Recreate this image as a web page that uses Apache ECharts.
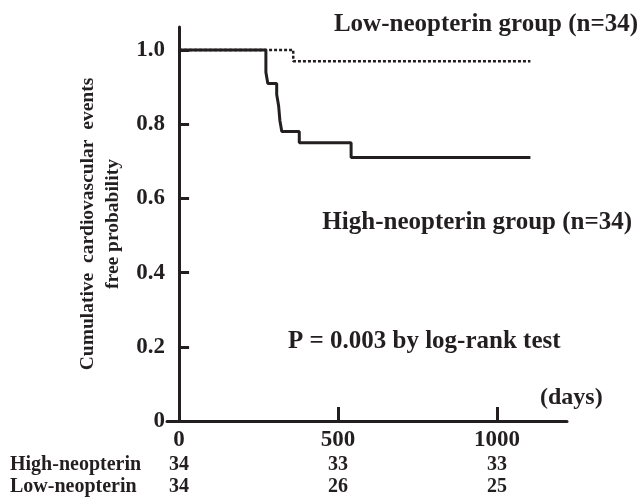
<!DOCTYPE html>
<html>
<head>
<meta charset="utf-8">
<script src="https://cdn.jsdelivr.net/npm/echarts@6/dist/echarts.min.js"></script>
<style>html,body{margin:0;padding:0;background:#fff}#c{width:641px;height:500px}</style>
</head>
<body>
<div id="c"></div>
<script>
// Kaplan-Meier step data (days, survival)
const highDays = [0, 273, 279, 307, 313, 317, 323, 378, 541, 1105];
const highSurv = [1.0, 0.94, 0.91, 0.88, 0.85, 0.81, 0.78, 0.75, 0.71, 0.71];
const lowDays = [0, 359, 1105];
const lowSurv = [1.0, 0.97, 0.97];
const xTicks = [0, 500, 1000];
const yTicks = [0, 0.2, 0.4, 0.6, 0.8, 1.0];
const atRiskHigh = [34, 33, 33];
const atRiskLow = [34, 26, 25];
const rowNames = ['High-neopterin', 'Low-neopterin'];

const ink = '#231f20';
const font = 'Liberation Serif';

const chart = echarts.init(document.getElementById('c'));
const baseX = {
  type: 'value', min: -38, max: 1220, splitLine: { show: false }
};
const riskAxis = (vals, offset) => Object.assign({}, baseX, {
  position: 'bottom', offset: offset,
  axisLine: { show: false }, axisTick: { show: false },
  axisLabel: {
    customValues: xTicks, margin: 0, color: ink, fontFamily: font, fontWeight: 'bold', fontSize: 20,
    formatter: v => String(vals[xTicks.indexOf(v)])
  }
});
chart.setOption({
  animation: false,
  grid: { left: 167, right: 74, top: 27, bottom: 79 },
  xAxis: [
    Object.assign({}, baseX, {
      position: 'bottom',
      axisLine: { onZero: false, lineStyle: { color: ink, width: 3 } },
      axisTick: { customValues: [500, 1000], inside: true, length: 14, lineStyle: { color: ink, width: 3 } },
      axisLabel: { customValues: xTicks, margin: 8, color: ink, fontFamily: font, fontWeight: 'bold', fontSize: 23,
        formatter: v => String(v) }
    }),
    riskAxis(atRiskHigh, 34),
    riskAxis(atRiskLow, 56)
  ],
  yAxis: {
    type: 'value', min: 0, max: 1.062,
    splitLine: { show: false },
    axisLine: { onZero: true, lineStyle: { color: ink, width: 3 } },
    axisTick: { customValues: [0.2, 0.4, 0.6, 0.8, 1.0], inside: true, length: 10, lineStyle: { color: ink, width: 3 } },
    axisLabel: {
      customValues: yTicks, margin: 2, color: ink, fontFamily: font, fontWeight: 'bold', fontSize: 23,
      formatter: v => v === 0 ? '0' : v.toFixed(1)
    },
    name: 'Cumulative  cardiovascular  events\nfree probability',
    nameLocation: 'middle', nameRotate: 90, nameGap: 36,
    nameTextStyle: { color: ink, fontFamily: font, fontWeight: 'bold', fontSize: 19.5, lineHeight: 25 }
  },
  series: [
    {
      type: 'line', step: 'end', symbol: 'none',
      data: lowDays.map((d, i) => [d, lowSurv[i]]),
      lineStyle: { color: ink, width: 2.5, type: [3, 2] }
    },
    {
      type: 'line', step: 'end', symbol: 'none',
      data: highDays.map((d, i) => [d, highSurv[i]]),
      lineStyle: { color: ink, width: 3 }
    }
  ],
  graphic: [
    { type: 'text', right: 3, top: 12, style: { text: 'Low-neopterin group (n=34)', fill: ink, font: 'bold 25px "Liberation Serif"' } },
    { type: 'text', right: 9, top: 210, style: { text: 'High-neopterin group (n=34)', fill: ink, font: 'bold 25px "Liberation Serif"' } },
    { type: 'text', left: 288, top: 329, style: { text: 'P = 0.003 by log-rank test', fill: ink, font: 'bold 25px "Liberation Serif"' } },
    { type: 'text', left: 540, top: 386, style: { text: '(days)', fill: ink, font: 'bold 24px "Liberation Serif"' } },
    { type: 'text', left: 10, top: 455, style: { text: rowNames[0], fill: ink, font: 'bold 20px "Liberation Serif"' } },
    { type: 'text', left: 10, top: 477, style: { text: rowNames[1], fill: ink, font: 'bold 20px "Liberation Serif"' } }
  ]
});
</script>
</body>
</html>
